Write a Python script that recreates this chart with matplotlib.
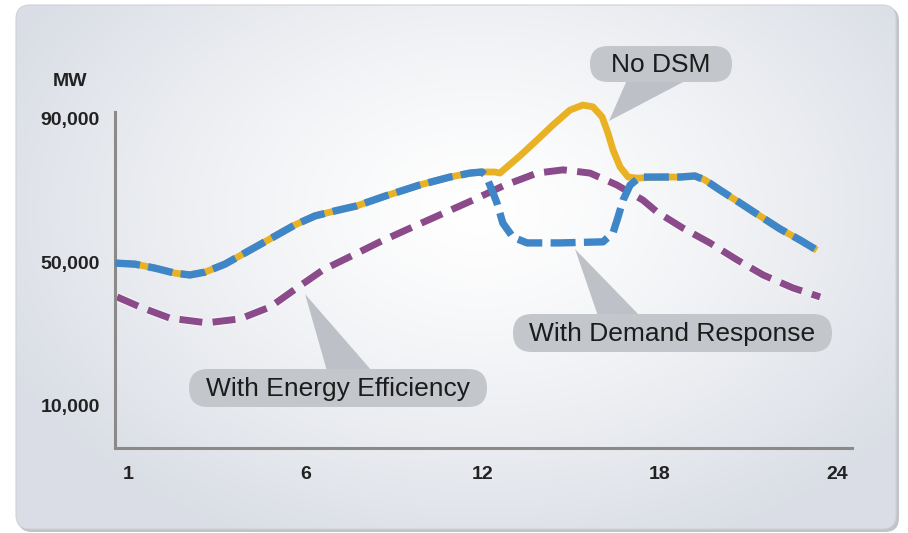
import numpy as np
import matplotlib
matplotlib.use('Agg')
import matplotlib.pyplot as plt
from matplotlib.patches import FancyBboxPatch, Polygon
import matplotlib.patheffects as pe

# ---------------- data ----------------
hours_no_dsm = [-0.44, 0.24, 0.91, 1.59, 2.10, 2.61, 3.28, 4.13, 4.98, 5.65, 6.33, 7.01,
                7.75, 8.70, 9.88, 10.90, 11.58, 11.98, 12.42, 12.59, 13.27, 13.85, 14.39,
                14.96, 15.40, 15.74, 16.05, 16.25, 16.42, 16.66, 16.93, 17.23, 18.01,
                18.69, 19.19, 19.53, 20.04, 20.72, 21.39, 22.07, 22.75, 23.32]
mw_no_dsm = [49700, 49400, 48300, 46900, 46400, 47200, 49400, 53300, 57200, 60300, 62800, 64200,
             65600, 68300, 71400, 73600, 74700, 75000, 75000, 74700, 79500, 83900, 88100,
             92200, 93600, 93100, 90300, 85800, 81100, 76400, 73600, 73300, 73600,
             73600, 73900, 72800, 70000, 66400, 62800, 59200, 56100, 53300]

hours_dr = [-0.44, 0.24, 0.91, 1.59, 2.10, 2.61, 3.28, 4.13, 4.98, 5.65, 6.33, 7.01,
            7.75, 8.70, 9.88, 10.90, 11.58, 11.98, 12.12, 12.32, 12.49, 12.69, 13.03,
            13.51, 14.62, 16.08, 16.42, 16.59, 16.76, 17.00, 17.33, 18.01, 18.69,
            19.19, 19.53, 20.04, 20.72, 21.39, 22.07, 22.75, 23.32]
mw_dr = [49700, 49400, 48300, 46900, 46400, 47200, 49400, 53300, 57200, 60300, 62800, 64200,
         65600, 68300, 71400, 73600, 74700, 75000, 73900, 70000, 66400, 60800, 56900,
         55300, 55300, 55600, 58100, 62500, 67200, 71400, 73600, 73600, 73600,
         73900, 72800, 70000, 66400, 62800, 59200, 56100, 53300]

hours_ee = [-0.37, 0.41, 1.42, 2.67, 3.79, 4.81, 5.72, 6.60, 7.62, 8.53, 9.55, 10.56,
            11.68, 12.69, 13.85, 14.73, 15.64, 16.55, 17.43, 17.91, 18.79, 19.70,
            20.62, 21.50, 22.51, 23.43]
mw_ee = [40300, 37500, 34400, 33100, 34200, 37500, 42800, 47800, 51900, 55600, 59400, 63100,
         67200, 71100, 74700, 75600, 74700, 71400, 67200, 63900, 59400, 55300,
         50600, 46400, 42800, 40300]

x_tick_pos = [0, 6, 12, 18, 24]
x_tick_labels = ['1', '6', '12', '18', '24']
y_tick_pos = [10000, 50000, 90000]
y_tick_labels = ['10,000', '50,000', '90,000']

# ---------------- figure ----------------
plt.rcParams['font.family'] = ['Liberation Sans', 'DejaVu Sans']
plt.rcParams['lines.scale_dashes'] = False

W, H = 908, 533
fig = plt.figure(figsize=(W / 100, H / 100), dpi=100)
fig.patch.set_facecolor('white')

# background overlay axes in pixel coordinates
bg = fig.add_axes([0, 0, 1, 1], zorder=0)
bg.set_xlim(0, W)
bg.set_ylim(H, 0)
bg.axis('off')

# card shadow + card
shadow = FancyBboxPatch((18, 7), 881, 525, boxstyle='round,pad=0,rounding_size=14',
                        facecolor='#c0c3c8', edgecolor='none', zorder=0)
bg.add_patch(shadow)
card = FancyBboxPatch((16, 5), 880, 524, boxstyle='round,pad=0,rounding_size=14',
                      facecolor='none', edgecolor='#cfd2d8', lw=0.8, zorder=2)
bg.add_patch(card)

yy, xx = np.mgrid[0:H, 0:W]
cx, cy, rx, ry = 480, 210, 520, 360
d = np.sqrt(((xx - cx) / rx) ** 2 + ((yy - cy) / ry) ** 2)
t = np.clip(d, 0, 1) ** 1.3
edge = np.array([0.855, 0.870, 0.900])
img = (1 - t[..., None]) * np.array([1.0, 1.0, 1.0]) + t[..., None] * edge
im = bg.imshow(img, extent=(0, W, H, 0), zorder=1, interpolation='bilinear')
clip_card = FancyBboxPatch((16, 5), 880, 524, boxstyle='round,pad=0,rounding_size=14',
                           transform=bg.transData, facecolor='none', edgecolor='none')
bg.add_patch(clip_card)
im.set_clip_path(clip_card)

# callout bubbles (pixel layout)
bubble_col = '#c3c6cb'
wedge_col = '#b8bcc2'
callouts = [
    ('No DSM', (590, 46, 732, 82), [(627, 80), (687, 80), (609, 121)]),
    ('With Demand Response', (513, 314, 832, 352), [(598, 316), (640, 316), (575, 249)]),
    ('With Energy Efficiency', (189, 369, 487, 407), [(327, 371), (372, 371), (305, 294)]),
]
for text, (x0, y0, x1, y1), wedge in callouts:
    bg.add_patch(Polygon(wedge, closed=True, facecolor=wedge_col, edgecolor='none',
                         alpha=0.9, zorder=3))
    r = (y1 - y0) / 2
    bg.add_patch(FancyBboxPatch((x0, y0), x1 - x0, y1 - y0,
                                boxstyle='round,pad=0,rounding_size=%f' % r,
                                facecolor=bubble_col, edgecolor='none', zorder=4))
    bg.text((x0 + x1) / 2, (y0 + y1) / 2 + 1, text, ha='center', va='center',
            fontsize=19, color='#1c1c1c', zorder=5)

bg.text(70, 82, 'MW', ha='center', va='center', fontsize=14, fontweight='bold',
        color='#222222', zorder=5)

# ---------------- data axes ----------------
ax = fig.add_axes([115 / W, (H - 448) / H, (852 - 115) / W, (448 - 112) / H], zorder=2)
ax.set_facecolor('none')
ax.set_xlim(-0.44, 24.51)
ax.set_ylim(-1667, 91667)

for s in ['top', 'right']:
    ax.spines[s].set_visible(False)
for s in ['left', 'bottom']:
    ax.spines[s].set_color('#8c8a89')
    ax.spines[s].set_linewidth(2.2)

ax.set_xticks(x_tick_pos)
ax.set_xticklabels(x_tick_labels, fontsize=14, fontweight='bold', color='#222222')
ax.set_yticks(y_tick_pos)
ax.set_yticklabels(y_tick_labels, fontsize=14, fontweight='bold', color='#222222')
ax.tick_params(axis='x', length=0, pad=13)
ax.tick_params(axis='y', length=0, pad=11)

yellow = '#e8b224'
blue = '#3f86c9'
purple = '#8b4a8a'

ax.plot(hours_ee, mw_ee, color=purple, lw=5.0, dashes=(16.5, 7.5),
        solid_joinstyle='round', dash_joinstyle='round', clip_on=False, zorder=2,
        path_effects=[pe.Stroke(linewidth=6.6, foreground='white', alpha=0.55), pe.Normal()])
ax.plot(hours_no_dsm, mw_no_dsm, color=yellow, lw=4.9, solid_joinstyle='round',
        solid_capstyle='butt', clip_on=False, zorder=3)
ax.plot(hours_dr, mw_dr, color=blue, lw=5.3, dashes=(18, 6),
        dash_joinstyle='round', clip_on=False, zorder=4)

fig.savefig('out.png', dpi=100)
